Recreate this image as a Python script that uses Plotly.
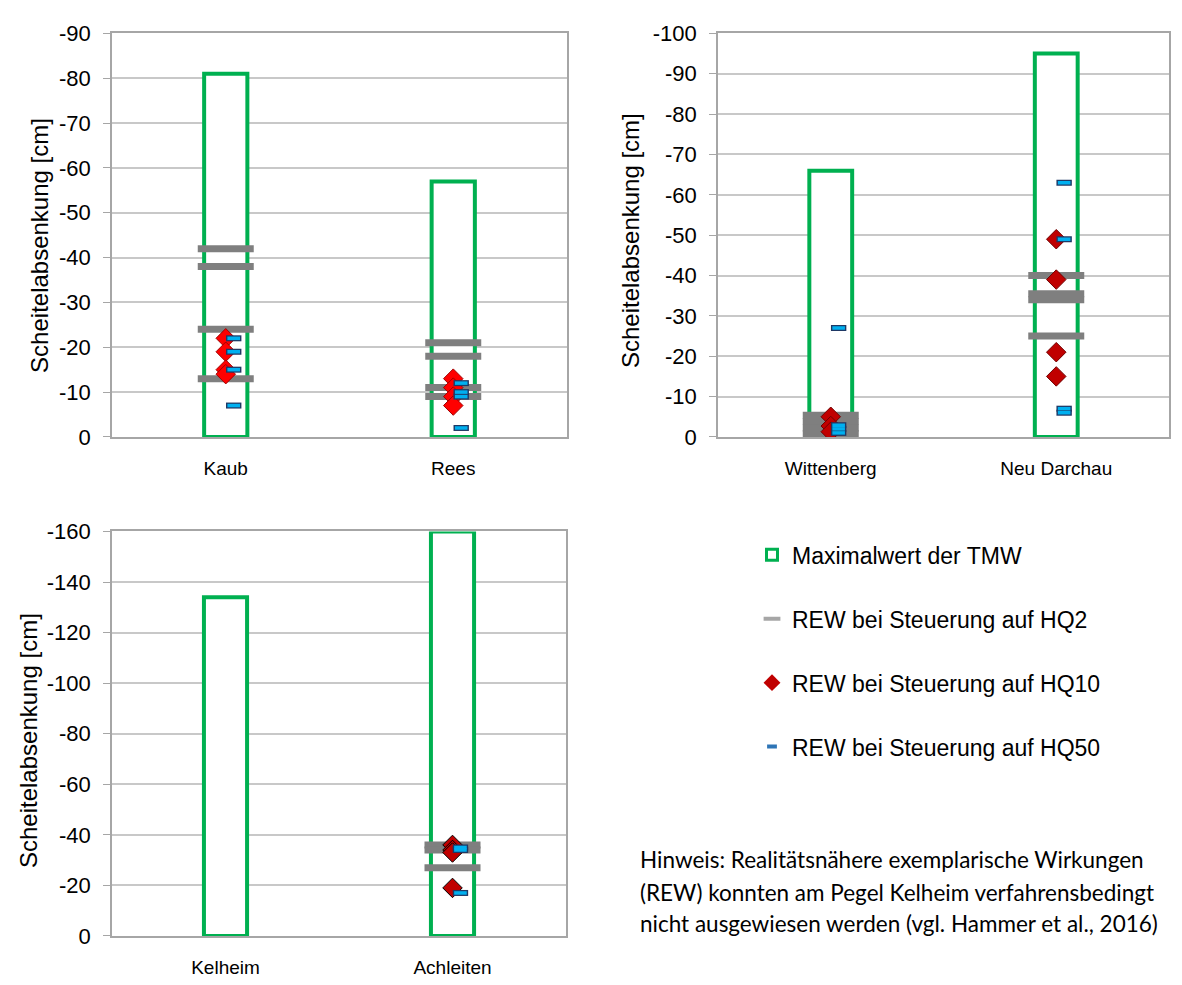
import plotly.graph_objects as go

# ---------------- data ----------------
cats_p1 = ["Kaub", "Rees"]
tmw_p1 = [-81, -57]
hq2_p1 = [[-42, -38, -24, -13], [-21, -18, -11, -9]]
hq10_p1 = [[-22, -19, -15, -14], [-13, -11, -9, -7]]
hq50_p1 = [[-22, -19, -15, -7], [-12, -10, -9, -2]]

cats_p2 = ["Wittenberg", "Neu Darchau"]
tmw_p2 = [-66, -95]
hq2_p2 = [[-5.4, -3.8, -2.2, -0.8], [-40, -35.5, -34, -25]]
hq10_p2 = [[-5, -2.7, -1.3], [-49, -39, -21, -15]]
hq50_p2 = [[-27, -2.9, -2, -1], [-63, -49, -7, -6]]

cats_p3 = ["Kelheim", "Achleiten"]
tmw_p3 = [-134, -160]
hq2_p3 = [[], [-36, -34, -27]]
hq10_p3 = [[], [-36, -34, -33, -19]]
hq50_p3 = [[], [-35, -34, -17]]

yranges = [90, 100, 160]
ydticks = [10, 10, 20]

legend_names = ["Maximalwert der TMW", "REW bei Steuerung auf HQ2",
                "REW bei Steuerung auf HQ10", "REW bei Steuerung auf HQ50"]
note_lines = ["Hinweis: Realitätsnähere exemplarische Wirkungen",
              "(REW) konnten am Pegel Kelheim verfahrensbedingt",
              "nicht ausgewiesen werden (vgl. Hammer et al., 2016)"]
ytitle = "Scheitelabsenkung [cm]"

# ---------------- styling ----------------
W, H = 1182, 985
GREEN = "#00B050"
GRAY_BAND = "#7f7f7f"
BLUE = "#00B0F0"
NAVY = "#1F3864"
GRID = "#c8c8c8"
AXLINE = "#a6a6a6"
FONT = "Liberation Sans, Arial, sans-serif"

def px_x(p):
    return p / W

def px_y(p):
    return 1 - p / H

panels = [
    dict(cats=cats_p1, tmw=tmw_p1, hq2=hq2_p1, hq10=hq10_p1, hq50=hq50_p1,
         xd=(112, 567), yd=(22, 436), red="#FF0000", redline="#a00000"),
    dict(cats=cats_p2, tmw=tmw_p2, hq2=hq2_p2, hq10=hq10_p2, hq50=hq50_p2,
         xd=(718, 1169), yd=(22, 436), red="#C00000", redline="#700000"),
    dict(cats=cats_p3, tmw=tmw_p3, hq2=hq2_p3, hq10=hq10_p3, hq50=hq50_p3,
         xd=(112, 566), yd=(533, 948), red="#C00000", redline="#000000"),
]

fig = go.Figure()

def flat(groups, offset=0.0):
    xs, ys = [], []
    for i, g in enumerate(groups):
        for v in g:
            xs.append(i + offset)
            ys.append(v)
    return xs, ys

for k, p in enumerate(panels):
    ax = "" if k == 0 else str(k + 1)
    xa, ya = "x" + ax, "y" + ax
    fig.add_trace(go.Bar(x=[0, 1], y=p["tmw"], width=0.19, base=0,
                         marker=dict(color="white", line=dict(color=GREEN, width=4)),
                         xaxis=xa, yaxis=ya, showlegend=False, cliponaxis=False))
    xs, ys = flat(p["hq2"])
    fig.add_trace(go.Scatter(x=xs, y=ys, mode="markers", xaxis=xa, yaxis=ya, showlegend=False,
                             marker=dict(symbol="line-ew", size=40,
                                         line=dict(color=GRAY_BAND, width=7))))
    xs, ys = flat(p["hq10"])
    fig.add_trace(go.Scatter(x=xs, y=ys, mode="markers", xaxis=xa, yaxis=ya, showlegend=False,
                             marker=dict(symbol="diamond", size=15, color=p["red"],
                                         line=dict(color=p["redline"], width=1))))
    xs, ys = flat(p["hq50"], 0.035)
    fig.add_trace(go.Scatter(x=xs, y=ys, mode="markers", xaxis=xa, yaxis=ya, showlegend=False,
                             marker=dict(symbol="line-ew", size=11, line=dict(color=NAVY, width=6))))
    fig.add_trace(go.Scatter(x=xs, y=ys, mode="markers", xaxis=xa, yaxis=ya, showlegend=False,
                             marker=dict(symbol="line-ew", size=9, line=dict(color=BLUE, width=3.5))))

    tvals = list(range(0, -yranges[k] - 1, -ydticks[k]))
    ttext = [str(v) for v in tvals]
    xkey = "xaxis" if k == 0 else "xaxis" + str(k + 1)
    ykey = "yaxis" if k == 0 else "yaxis" + str(k + 1)
    fig.update_layout(**{
        xkey: dict(domain=[px_x(p["xd"][0]), px_x(p["xd"][1])], anchor=ya,
                   range=[-0.5, 1.5], tickvals=[0, 1], ticktext=p["cats"],
                   showgrid=False, zeroline=False, showline=True, linecolor=AXLINE,
                   linewidth=1.5, mirror=True, ticks="", ticklabelstandoff=14,
                   tickfont=dict(family=FONT, size=19, color="#000")),
        ykey: dict(domain=[px_y(p["yd"][1]), px_y(p["yd"][0])], anchor=xa,
                   range=[0, -yranges[k]], tickvals=tvals, ticktext=ttext,
                   showgrid=True, gridcolor=GRID, gridwidth=1.5, zeroline=False,
                   showline=True, linecolor=AXLINE, linewidth=1.5, mirror=True,
                   ticks="outside", ticklen=7, tickcolor=AXLINE, ticklabelstandoff=8,
                   tickfont=dict(family=FONT, size=22, color="#000")),
    })

# ---- legend (dummy entries) ----
fig.add_trace(go.Scatter(x=[None], y=[None], mode="markers", name=legend_names[0], legendgroup="a",
                         marker=dict(symbol="square", size=11, color="white",
                                     line=dict(color=GREEN, width=3))))
fig.add_trace(go.Scatter(x=[None], y=[None], mode="markers", name=legend_names[1], legendgroup="b",
                         marker=dict(symbol="line-ew", size=12, line=dict(color="#a6a6a6", width=4))))
fig.add_trace(go.Scatter(x=[None], y=[None], mode="markers", name=legend_names[2], legendgroup="c",
                         marker=dict(symbol="diamond", size=13, color="#C00000")))
fig.add_trace(go.Scatter(x=[None], y=[None], mode="markers", name=legend_names[3], legendgroup="d",
                         marker=dict(symbol="line-ew", size=7, line=dict(color="#2E75B6", width=4))))

annotations = []
for (cx, cy) in [(40, 240), (630, 235), (28, 748)]:
    annotations.append(dict(text=ytitle, x=px_x(cx), y=px_y(cy), xref="paper", yref="paper",
                            textangle=-90, showarrow=False, xanchor="center", yanchor="middle",
                            font=dict(family=FONT, size=24, color="#000")))
for line, yy in zip(note_lines, [870, 903, 935]):
    annotations.append(dict(text=line, x=px_x(638), y=px_y(yy), xref="paper",
                            yref="paper", showarrow=False, xanchor="left", yanchor="middle",
                            align="left", font=dict(family="Lato, Open Sans, sans-serif", size=22.5,
                                                    color="#000")))

fig.update_layout(
    width=W, height=H, margin=dict(l=0, r=0, t=0, b=0),
    paper_bgcolor="white", plot_bgcolor="white",
    barmode="overlay", annotations=annotations,
    legend=dict(x=px_x(752), y=px_y(535), xanchor="left", yanchor="top",
                tracegroupgap=31, font=dict(family=FONT, size=23, color="#000"),
                bgcolor="rgba(0,0,0,0)", itemsizing="trace"),
)

fig.write_html("out.html")
